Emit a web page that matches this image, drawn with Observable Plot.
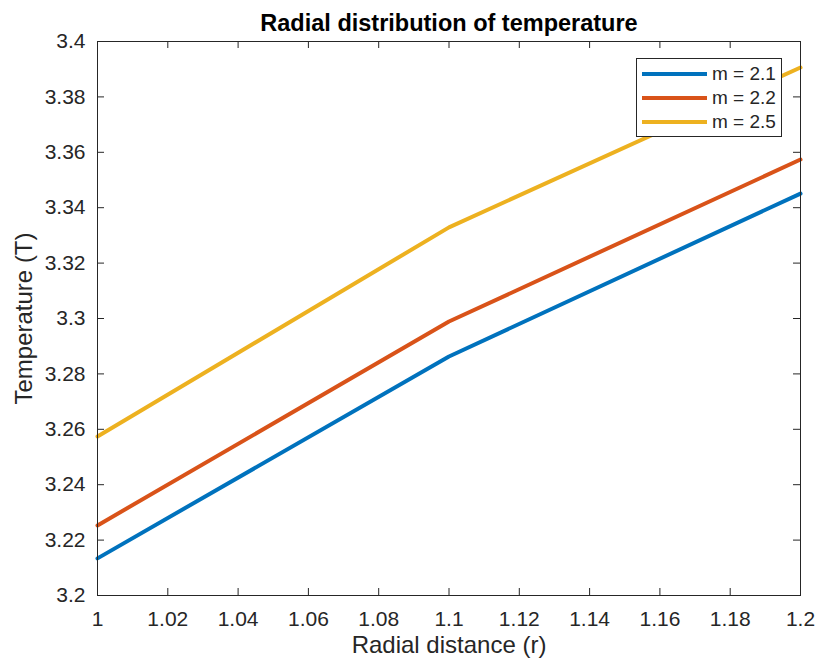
<!DOCTYPE html>
<html>
<head>
<meta charset="utf-8">
<script src="https://cdn.jsdelivr.net/npm/d3@7"></script>
<script src="https://cdn.jsdelivr.net/npm/@observablehq/plot@0.6"></script>
<style>
  body { margin: 0; background: #fff; font-family: "Liberation Sans", Arial, sans-serif; }
  #wrap { position: relative; width: 819px; height: 660px; }
  #legend { position: absolute; left: 636px; top: 58px; width: 146px; height: 79px; border: 1px solid #262626; background: #fff; box-sizing: border-box; padding-top: 3px; }
  .row { display: flex; align-items: center; height: 24px; }
  .sw { width: 65px; height: 4px; margin-left: 5px; margin-right: 5px; }
  .lab { font-size: 19px; color: #262626; }
</style>
</head>
<body>
<div id="wrap"></div>
<script>
const radius = [1, 1.1, 1.2];
const tempM21 = [3.2134, 3.2863, 3.3451];
const tempM22 = [3.2253, 3.2989, 3.3574];
const tempM25 = [3.2574, 3.3329, 3.3906];
const seriesNames = ["m = 2.1", "m = 2.2", "m = 2.5"];
const seriesColors = ["#0072BD", "#D95319", "#EDB120"];
const xTicks = [1, 1.02, 1.04, 1.06, 1.08, 1.1, 1.12, 1.14, 1.16, 1.18, 1.2];
const yTicks = [3.2, 3.22, 3.24, 3.26, 3.28, 3.3, 3.32, 3.34, 3.36, 3.38, 3.4];

const seriesValues = [tempM21, tempM22, tempM25];
const rows = [];
seriesNames.forEach((name, i) => radius.forEach((r, j) => rows.push({r, t: seriesValues[i][j], m: name})));

const W = 819, H = 660, mL = 97, mR = 19, mT = 41, mB = 65;
const pw = W - mL - mR, ph = H - mT - mB, tl = 7;
const fmt = d => String(+d.toFixed(3));
const ink = "#262626";

const chart = Plot.plot({
  width: W, height: H,
  marginLeft: mL, marginRight: mR, marginTop: mT, marginBottom: mB,
  style: { fontFamily: "Liberation Sans, Arial, sans-serif", fontSize: "21px", color: ink, background: "#fff" },
  x: { domain: [1, 1.2], axis: null },
  y: { domain: [3.2, 3.4], axis: null },
  color: { domain: seriesNames, range: seriesColors },
  marks: [
    Plot.text(xTicks, { x: d => d, text: fmt, frameAnchor: "bottom", lineAnchor: "top", dy: 16, fontSize: 21, fill: ink }),
    Plot.text(yTicks, { y: d => d, text: fmt, frameAnchor: "left", textAnchor: "end", dx: -12, fontSize: 21, fill: ink }),
    Plot.axisX({ ticks: [], tickSize: 0, label: "Radial distance (r)", labelAnchor: "center", labelArrow: "none", labelOffset: 57, fontSize: 24, fill: ink }),
    Plot.axisY({ ticks: [], tickSize: 0, label: "Temperature (T)", labelAnchor: "center", labelArrow: "none", labelOffset: 82.5, fontSize: 24, fill: ink }),
    Plot.tickX(xTicks, { x: d => d, stroke: ink, insetTop: ph - tl }),
    Plot.tickX(xTicks, { x: d => d, stroke: ink, insetBottom: ph - tl }),
    Plot.tickY(yTicks, { y: d => d, stroke: ink, insetRight: pw - tl }),
    Plot.tickY(yTicks, { y: d => d, stroke: ink, insetLeft: pw - tl }),
    Plot.line(rows, { x: "r", y: "t", z: "m", stroke: "m", strokeWidth: 4 }),
    Plot.frame({ stroke: ink, strokeWidth: 1 }),
    Plot.text(["Radial distribution of temperature"], { frameAnchor: "top", lineAnchor: "middle", dy: -18, fontWeight: "bold", fontSize: 23.5, fill: "#000" })
  ]
});
const wrap = document.getElementById("wrap");
wrap.appendChild(chart);

const leg = document.createElement("div");
leg.id = "legend";
seriesNames.forEach((n, i) => {
  const row = document.createElement("div");
  row.className = "row";
  row.innerHTML = `<div class="sw" style="background:${seriesColors[i]}"></div><span class="lab">${n}</span>`;
  leg.appendChild(row);
});
wrap.appendChild(leg);
</script>
</body>
</html>
